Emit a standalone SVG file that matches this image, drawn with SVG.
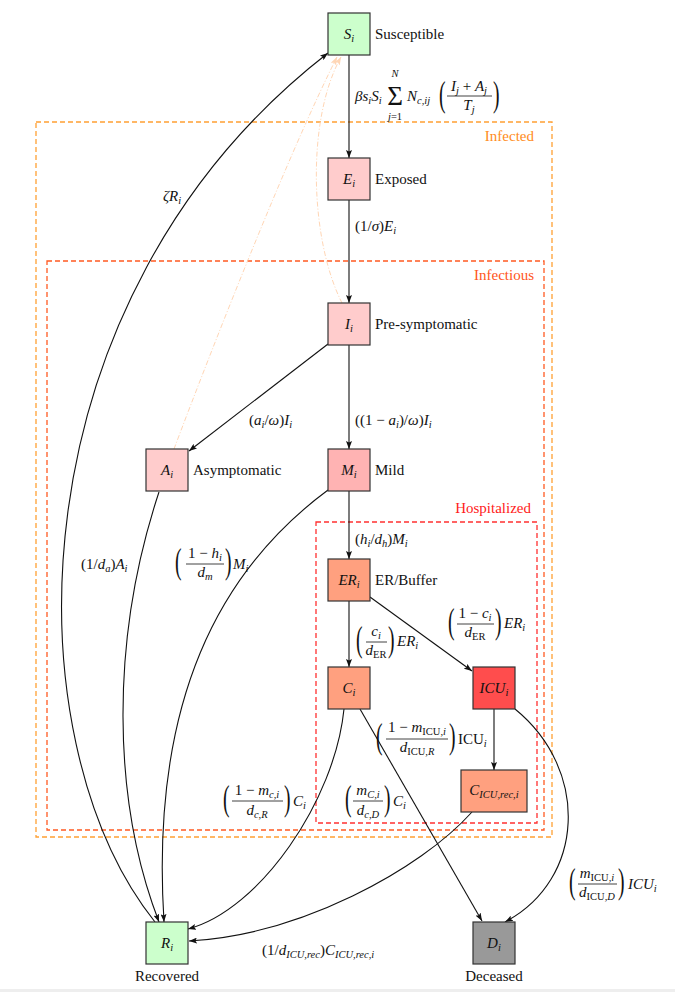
<svg xmlns="http://www.w3.org/2000/svg" width="675" height="992" viewBox="0 0 675 992">
<style>
text{font-family:"Liberation Serif","DejaVu Serif",serif;fill:#111}
.lbl{font-size:15px}
.mi{font-size:15px;font-style:italic}
.nm{font-size:15px;font-style:italic}
.s{font-size:10.5px}
.up{font-style:normal}
.box{stroke:#333;stroke-width:1.2}
.e{fill:none;stroke:#111;stroke-width:1.1}
.f{fill:none;stroke:#FFD6B5;stroke-width:1;stroke-dasharray:5 2 1 2}
.bar{stroke:#111;stroke-width:0.8}
.par{font-size:28px;font-style:normal}
.grp{fill:none;stroke-width:1.3;stroke-dasharray:5 3}
</style>
<defs>
<marker id="ar" viewBox="0 0 8 6" refX="8" refY="3" markerWidth="8" markerHeight="6" markerUnits="userSpaceOnUse" orient="auto"><path d="M0,0 L8,3 L0,6 L1.6,3 z" fill="#111"/></marker>
<marker id="af" viewBox="0 0 8 6" refX="8" refY="3" markerWidth="8" markerHeight="6" markerUnits="userSpaceOnUse" orient="auto"><path d="M0,0 L8,3 L0,6 L1.6,3 z" fill="#FFD6B5"/></marker>
</defs>
<rect x="0" y="0" width="675" height="992" fill="#fff"/>
<rect x="0" y="989" width="675" height="3" fill="#eee"/>

<g id="groups">
<rect class="grp" x="36" y="122" width="516" height="715" stroke="#FFA033"/>
<text class="lbl" x="534" y="141" text-anchor="end" style="fill:#FF8C1A">Infected</text>
<rect class="grp" x="47" y="261" width="497" height="569" stroke="#FF5A22"/>
<text class="lbl" x="534" y="280" text-anchor="end" style="fill:#FF5522">Infectious</text>
<rect class="grp" x="316" y="522" width="221" height="301" stroke="#FF3030"/>
<text class="lbl" x="531" y="513" text-anchor="end" style="fill:#FF2020">Hospitalized</text>
</g>

<g id="connectors">
<path class="f" d="M174,449 C215,340 290,150 337,57" marker-end="url(#af)"/>
<path class="f" d="M342,303 C310,240 306,120 341,57" marker-end="url(#af)"/>
<path class="e" d="M349,55 V158" marker-end="url(#ar)"/>
<path class="e" d="M349,200 V303" marker-end="url(#ar)"/>
<path class="e" d="M328,344 L189,451" marker-end="url(#ar)"/>
<path class="e" d="M349,345 V449" marker-end="url(#ar)"/>
<path class="e" d="M349,491 V559" marker-end="url(#ar)"/>
<path class="e" d="M349,601 V667" marker-end="url(#ar)"/>
<path class="e" d="M370,597 L472,671" marker-end="url(#ar)"/>
<path class="e" d="M494,709 V770" marker-end="url(#ar)"/>
<path class="e" d="M360,709 L482,921" marker-end="url(#ar)"/>
<path class="e" d="M515,709 C590,770 585,880 505,922" marker-end="url(#ar)"/>
<path class="e" d="M344,709 C335,800 260,910 188,929" marker-end="url(#ar)"/>
<path class="e" d="M472,812 C420,870 300,935 189,941" marker-end="url(#ar)"/>
<path class="e" d="M159,492 C110,640 112,800 159,922" marker-end="url(#ar)"/>
<path class="e" d="M328,490 C220,570 150,700 164,922" marker-end="url(#ar)"/>
<path class="e" d="M155,922 C10,740 10,300 328,53" marker-end="url(#ar)"/>
</g>

<g id="edge-labels">
<text class="mi" x="355" y="101">βs<tspan class="s" dy="3">i</tspan><tspan dy="-3">S</tspan><tspan class="s" dy="3">i</tspan></text>
<text x="395" y="105" font-size="27" text-anchor="middle">Σ</text>
<text class="s" x="395" y="77" text-anchor="middle" font-style="italic">N</text>
<text class="s" x="395" y="120" text-anchor="middle"><tspan font-style="italic">j</tspan>=1</text>
<text class="mi" x="407" y="101">N<tspan class="s" dy="3">c,ij</tspan></text>
<text class="par" transform="translate(439,106) scale(0.7,1.25)">(</text>
<text class="mi" x="469" y="91" text-anchor="middle">I<tspan class="s" dy="3">j</tspan><tspan class="up" dy="-3"> + </tspan>A<tspan class="s" dy="3">j</tspan></text>
<line class="bar" x1="447" y1="96" x2="492" y2="96"/>
<text class="mi" x="469" y="110" text-anchor="middle">T<tspan class="s" dy="3">j</tspan></text>
<text class="par" transform="translate(493,106) scale(0.7,1.25)">)</text>

<text class="mi" x="355" y="231"><tspan class="up">(1/</tspan>σ<tspan class="up">)</tspan>E<tspan class="s" dy="3">i</tspan></text>
<text class="mi" x="249" y="425"><tspan class="up">(</tspan>a<tspan class="s" dy="3">i</tspan><tspan class="up" dy="-3">/</tspan>ω<tspan class="up">)</tspan>I<tspan class="s" dy="3">i</tspan></text>
<text class="mi" x="355" y="425"><tspan class="up">((1 − </tspan>a<tspan class="s" dy="3">i</tspan><tspan class="up" dy="-3">)/</tspan>ω<tspan class="up">)</tspan>I<tspan class="s" dy="3">i</tspan></text>
<text class="mi" x="355" y="544"><tspan class="up">(</tspan>h<tspan class="s" dy="3">i</tspan><tspan class="up" dy="-3">/</tspan>d<tspan class="s" dy="3">h</tspan><tspan class="up" dy="-3">)</tspan>M<tspan class="s" dy="3">i</tspan></text>
<text class="mi" x="81" y="569"><tspan class="up">(1/</tspan>d<tspan class="s" dy="3">a</tspan><tspan class="up" dy="-3">)</tspan>A<tspan class="s" dy="3">i</tspan></text>
<text class="mi" x="163" y="201">ζR<tspan class="s" dy="3">i</tspan></text>

<text class="par" transform="translate(175,573) scale(0.7,1.25)">(</text>
<text class="mi" x="205" y="558" text-anchor="middle"><tspan class="up">1 − </tspan>h<tspan class="s" dy="3">i</tspan></text>
<line class="bar" x1="186" y1="564" x2="224" y2="564"/>
<text class="mi" x="205" y="577" text-anchor="middle">d<tspan class="s" dy="3">m</tspan></text>
<text class="par" transform="translate(225,573) scale(0.7,1.25)">)</text>
<text class="mi" x="233" y="569">M<tspan class="s" dy="3">i</tspan></text>

<text class="par" transform="translate(356,651) scale(0.7,1.25)">(</text>
<text class="mi" x="376" y="636" text-anchor="middle">c<tspan class="s" dy="3">i</tspan></text>
<line class="bar" x1="366" y1="642" x2="387" y2="642"/>
<text class="mi" x="376" y="655" text-anchor="middle">d<tspan class="s up" dy="3">ER</tspan></text>
<text class="par" transform="translate(388,651) scale(0.7,1.25)">)</text>
<text class="mi" x="397" y="646">ER<tspan class="s" dy="3">i</tspan></text>

<text class="par" transform="translate(448,633) scale(0.7,1.25)">(</text>
<text class="mi" x="475" y="618" text-anchor="middle"><tspan class="up">1 − </tspan>c<tspan class="s" dy="3">i</tspan></text>
<line class="bar" x1="457" y1="624" x2="494" y2="624"/>
<text class="mi" x="475" y="637" text-anchor="middle">d<tspan class="s up" dy="3">ER</tspan></text>
<text class="par" transform="translate(495,633) scale(0.7,1.25)">)</text>
<text class="mi" x="504" y="628">ER<tspan class="s" dy="3">i</tspan></text>

<text class="par" transform="translate(376,748) scale(0.7,1.25)">(</text>
<text class="mi" x="417" y="732" text-anchor="middle"><tspan class="up">1 − </tspan>m<tspan class="s" dy="3"><tspan class="up">ICU</tspan>,i</tspan></text>
<line class="bar" x1="386" y1="739" x2="448" y2="739"/>
<text class="mi" x="417" y="752" text-anchor="middle">d<tspan class="s" dy="3"><tspan class="up">ICU</tspan>,R</tspan></text>
<text class="par" transform="translate(449,748) scale(0.7,1.25)">)</text>
<text class="mi" x="458" y="744"><tspan class="up">ICU</tspan><tspan class="s" dy="3">i</tspan></text>

<text class="par" transform="translate(345,810) scale(0.7,1.25)">(</text>
<text class="mi" x="368" y="795" text-anchor="middle">m<tspan class="s" dy="3">C,i</tspan></text>
<line class="bar" x1="353" y1="801" x2="383" y2="801"/>
<text class="mi" x="368" y="815" text-anchor="middle">d<tspan class="s" dy="3">c,D</tspan></text>
<text class="par" transform="translate(384,810) scale(0.7,1.25)">)</text>
<text class="mi" x="393" y="806">C<tspan class="s" dy="3">i</tspan></text>

<text class="par" transform="translate(223,810) scale(0.7,1.25)">(</text>
<text class="mi" x="257" y="795" text-anchor="middle"><tspan class="up">1 − </tspan>m<tspan class="s" dy="3">c,i</tspan></text>
<line class="bar" x1="232" y1="801" x2="283" y2="801"/>
<text class="mi" x="257" y="815" text-anchor="middle">d<tspan class="s" dy="3">c,R</tspan></text>
<text class="par" transform="translate(284,810) scale(0.7,1.25)">)</text>
<text class="mi" x="293" y="806">C<tspan class="s" dy="3">i</tspan></text>

<text class="par" transform="translate(569,893) scale(0.7,1.25)">(</text>
<text class="mi" x="597" y="878" text-anchor="middle">m<tspan class="s" dy="3"><tspan class="up">ICU</tspan>,i</tspan></text>
<line class="bar" x1="578" y1="884" x2="617" y2="884"/>
<text class="mi" x="597" y="897" text-anchor="middle">d<tspan class="s" dy="3"><tspan class="up">ICU</tspan>,D</tspan></text>
<text class="par" transform="translate(618,893) scale(0.7,1.25)">)</text>
<text class="mi" x="628" y="889">ICU<tspan class="s" dy="3">i</tspan></text>

<text class="mi" x="262" y="955"><tspan class="up">(1/</tspan>d<tspan class="s" dy="3">ICU,rec</tspan><tspan class="up" dy="-3">)</tspan>C<tspan class="s" dy="3">ICU,rec,i</tspan></text>
</g>

<g id="node-S"><rect class="box" x="328" y="13" width="42" height="42" fill="#CCFFCC"/><text class="nm" x="349" y="39" text-anchor="middle">S<tspan class="s" dy="3">i</tspan></text><text class="lbl" x="375" y="39">Susceptible</text></g>
<g id="node-E"><rect class="box" x="328" y="158" width="42" height="42" fill="#FFCCCC"/><text class="nm" x="349" y="184" text-anchor="middle">E<tspan class="s" dy="3">i</tspan></text><text class="lbl" x="375" y="184">Exposed</text></g>
<g id="node-I"><rect class="box" x="328" y="303" width="42" height="42" fill="#FFCCCC"/><text class="nm" x="349" y="329" text-anchor="middle">I<tspan class="s" dy="3">i</tspan></text><text class="lbl" x="375" y="329">Pre-symptomatic</text></g>
<g id="node-A"><rect class="box" x="146" y="449" width="42" height="42" fill="#FFCCCC"/><text class="nm" x="167" y="475" text-anchor="middle">A<tspan class="s" dy="3">i</tspan></text><text class="lbl" x="193" y="475">Asymptomatic</text></g>
<g id="node-M"><rect class="box" x="328" y="449" width="42" height="42" fill="#FFB3B3"/><text class="nm" x="349" y="475" text-anchor="middle">M<tspan class="s" dy="3">i</tspan></text><text class="lbl" x="375" y="475">Mild</text></g>
<g id="node-ER"><rect class="box" x="328" y="559" width="42" height="42" fill="#FFA07F"/><text class="nm" x="349" y="585" text-anchor="middle">ER<tspan class="s" dy="3">i</tspan></text><text class="lbl" x="375" y="585">ER/Buffer</text></g>
<g id="node-C"><rect class="box" x="328" y="667" width="42" height="42" fill="#FFA07F"/><text class="nm" x="349" y="693" text-anchor="middle">C<tspan class="s" dy="3">i</tspan></text></g>
<g id="node-ICU"><rect class="box" x="473" y="667" width="42" height="42" fill="#FF4D4D"/><text class="nm" x="494" y="693" text-anchor="middle">ICU<tspan class="s" dy="3">i</tspan></text></g>
<g id="node-CICU"><rect class="box" x="461" y="770" width="66" height="42" fill="#FFA07F"/><text class="nm" x="494" y="795" text-anchor="middle">C<tspan class="s" dy="3">ICU,rec,i</tspan></text></g>
<g id="node-R"><rect class="box" x="146" y="922" width="42" height="42" fill="#CCFFCC"/><text class="nm" x="167" y="948" text-anchor="middle">R<tspan class="s" dy="3">i</tspan></text><text class="lbl" x="167" y="981" text-anchor="middle">Recovered</text></g>
<g id="node-D"><rect class="box" x="473" y="922" width="42" height="42" fill="#999999"/><text class="nm" x="494" y="948" text-anchor="middle">D<tspan class="s" dy="3">i</tspan></text><text class="lbl" x="494" y="981" text-anchor="middle">Deceased</text></g>
</svg>
